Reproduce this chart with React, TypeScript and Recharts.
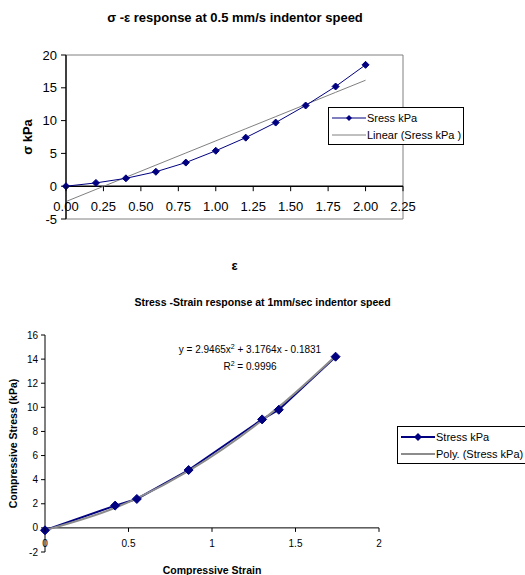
import { LineChart, Line, XAxis, YAxis, ReferenceLine, ReferenceArea, Legend, Label } from "recharts";

const FONT = "'Liberation Sans', Arial, sans-serif";

// chart 1: 0.5 mm/s
const strainA = [0, 0.2, 0.4, 0.6, 0.8, 1.0, 1.2, 1.4, 1.6, 1.8, 2.0];
const stressA = [0, 0.5, 1.2, 2.2, 3.6, 5.4, 7.4, 9.7, 12.3, 15.2, 18.5];
const xTicksA = [0, 0.25, 0.5, 0.75, 1, 1.25, 1.5, 1.75, 2, 2.25];
const yTicksA = [-5, 0, 5, 10, 15, 20];

// chart 2: 1 mm/sec
const strainB = [0, 0.42, 0.55, 0.86, 1.3, 1.4, 1.74];
const stressB = [-0.2, 1.85, 2.4, 4.8, 9.0, 9.8, 14.2];
const polyB = [2.9465, 3.1764, -0.1831]; // from the trendline label
const xTicksB = [0, 0.5, 1, 1.5, 2];
const yTicksB = [-2, 0, 2, 4, 6, 8, 10, 12, 14, 16];

// least squares line, same as Excel's linear trendline
function linFit(xs: number[], ys: number[]) {
  const n = xs.length;
  const mx = xs.reduce((a, b) => a + b, 0) / n;
  const my = ys.reduce((a, b) => a + b, 0) / n;
  let num = 0;
  let den = 0;
  xs.forEach((x, i) => {
    num += (x - mx) * (ys[i] - my);
    den += (x - mx) * (x - mx);
  });
  const slope = num / den;
  return (x: number) => my + slope * (x - mx);
}

const fitA = linFit(strainA, stressA);
const dataA = strainA.map((x, i) => ({ x, stress: stressA[i], trend: fitA(x) }));
const dataB = strainB.map((x, i) => ({
  x,
  stress: stressB[i],
  trend: polyB[0] * x * x + polyB[1] * x + polyB[2],
}));

// layout
const A = { h: 280, top: 55, bottom: 31, xh: 30, yw: 66, right: 122 };
const plotHA = A.h - A.top - A.bottom - A.xh;
const zeroA = (plotHA * 5) / 25;

const B = { h: 285, top: 45, bottom: 0, xh: 23, yw: 45, right: 146 };
const plotHB = B.h - B.top - B.bottom - B.xh;
const zeroB = (plotHB * 2) / 18;

const diamond = (r: number) => (props: any) => {
  const { cx, cy, index } = props;
  if (cx == null || cy == null) return <g key={`e-${index}`} />;
  return (
    <polygon
      key={`d-${index}`}
      points={`${cx},${cy - r} ${cx + r},${cy} ${cx},${cy + r} ${cx - r},${cy}`}
      fill="#000080"
      stroke="#000080"
    />
  );
};

const xTickA = (props: any) => {
  const { x, y, payload } = props;
  const y0 = y - zeroA;
  return (
    <g>
      <line x1={x} x2={x} y1={y0} y2={y0 + 5} stroke="#000" />
      <text x={x} y={y0 + 20} textAnchor="middle" dominantBaseline="central" fontSize={13} fontFamily={FONT} fill="#000">
        {payload.value.toFixed(2)}
      </text>
    </g>
  );
};

const xTickB = (props: any) => {
  const { x, y, payload } = props;
  const y0 = y - zeroB;
  return (
    <g>
      <line x1={x} x2={x} y1={y0} y2={y0 + 4} stroke="#000" />
      <text x={x} y={y0 + 16} textAnchor="middle" dominantBaseline="central" fontSize={10} fontFamily={FONT} fill="#000">
        {payload.value}
      </text>
    </g>
  );
};

const yTitle = (text: string, x: number, size: number) => (props: any) => {
  const vb = props.viewBox || {};
  const cy = (vb.y ?? 0) + (vb.height ?? 0) / 2;
  return (
    <text
      x={x}
      y={cy}
      transform={`rotate(-90 ${x} ${cy})`}
      textAnchor="middle"
      dominantBaseline="central"
      fontSize={size}
      fontWeight="bold"
      fontFamily={FONT}
      fill="#000"
    >
      {text}
    </text>
  );
};

const xTitle = (text: string, dy: number, size: number) => (props: any) => {
  const vb = props.viewBox || {};
  const cx = (vb.x ?? 0) + (vb.width ?? 0) / 2;
  return (
    <text x={cx} y={(vb.y ?? 0) + dy} textAnchor="middle" dominantBaseline="central" fontSize={size} fontWeight="bold" fontFamily={FONT} fill="#000">
      {text}
    </text>
  );
};

// data series first, trendline second
const legendBox = (thick: number, r: number) => (props: any) => {
  const items = [...(props.payload || [])].sort(
    (a: any, b: any) => (a.dataKey === "stress" ? 0 : 1) - (b.dataKey === "stress" ? 0 : 1)
  );
  return (
    <div style={{ border: "1px solid #000", background: "#fff", padding: "1px 3px", fontFamily: FONT, fontSize: 11 }}>
      {items.map((it: any) => {
        const marker = it.dataKey === "stress";
        return (
          <div key={it.value} style={{ display: "flex", alignItems: "center", height: 17, whiteSpace: "nowrap" }}>
            <svg width={34} height={12} style={{ marginRight: 1, flexShrink: 0 }}>
              <line x1={0} x2={34} y1={6} y2={6} stroke={it.color} strokeWidth={thick} />
              {marker ? <polygon points={`17,${6 - r} ${17 + r},6 17,${6 + r} ${17 - r},6`} fill="#000080" /> : null}
            </svg>
            <span>{it.value}</span>
          </div>
        );
      })}
    </div>
  );
};

export default function App() {
  return (
    <div style={{ position: "absolute", left: 0, top: 0, width: 525, height: 575, overflow: "hidden", background: "#fff", fontFamily: FONT }}>
      <div style={{ position: "absolute", left: 35, width: 400, top: 10, textAlign: "center", fontSize: 13, fontWeight: "bold", lineHeight: "16px" }}>
        σ -ε response at 0.5 mm/s indentor speed
      </div>
      <div style={{ position: "absolute", left: 0, top: 0 }}>
        <LineChart width={525} height={A.h} data={dataA} margin={{ top: A.top, right: A.right, bottom: A.bottom, left: 0 }}>
          <ReferenceArea x1={0} x2={2.25} y1={-5} y2={20} fill="none" stroke="#808080" />
          <XAxis
            type="number"
            dataKey="x"
            domain={[0, 2.25]}
            ticks={xTicksA}
            interval={0}
            height={A.xh}
            axisLine={false}
            tickLine={false}
            tickSize={0}
            tickMargin={0}
            tick={xTickA}
          >
            <Label content={xTitle("ε", 46, 13)} />
          </XAxis>
          <YAxis
            type="number"
            domain={[-5, 20]}
            ticks={yTicksA}
            interval={0}
            width={A.yw}
            axisLine={{ stroke: "#404040", strokeWidth: 2 }}
            tickLine={{ stroke: "#000" }}
            tickSize={5}
            tickMargin={4}
            tick={{ fontSize: 13, fill: "#000", fontFamily: FONT }}
          >
            <Label content={yTitle("σ kPa", 27, 13)} />
          </YAxis>
          <ReferenceLine y={0} stroke="#000" strokeWidth={1.5} />
          <Line
            type="linear"
            dataKey="trend"
            name="Linear (Sress kPa )"
            stroke="#808080"
            strokeWidth={1}
            dot={false}
            isAnimationActive={false}
          />
          <Line
            type="linear"
            dataKey="stress"
            name="Sress kPa"
            stroke="#000080"
            strokeWidth={1}
            dot={diamond(3.5)}
            isAnimationActive={false}
          />
          <Legend
            layout="vertical"
            align="center"
            verticalAlign="middle"
            wrapperStyle={{ left: 328, top: 107, width: 136 }}
            content={legendBox(1, 3)}
          />
        </LineChart>
      </div>

      <div style={{ position: "absolute", left: 0, width: 525, top: 294, textAlign: "center", fontSize: 10.5, fontWeight: "bold", lineHeight: "16px" }}>
        Stress -Strain response at 1mm/sec indentor speed
      </div>
      <div style={{ position: "absolute", left: 150, width: 200, top: 342, textAlign: "center", fontSize: 10, lineHeight: "16px" }}>
        <div>
          y = 2.9465x<span style={{ fontSize: 7, position: "relative", top: -4 }}>2</span> + 3.1764x - 0.1831
        </div>
        <div>
          R<span style={{ fontSize: 7, position: "relative", top: -4 }}>2</span> = 0.9996
        </div>
      </div>
      <div style={{ position: "absolute", left: 0, top: 290 }}>
        <LineChart width={525} height={B.h} data={dataB} margin={{ top: B.top, right: B.right, bottom: B.bottom, left: 0 }}>
          <XAxis
            type="number"
            dataKey="x"
            domain={[0, 2]}
            ticks={xTicksB}
            interval={0}
            height={B.xh}
            axisLine={false}
            tickLine={false}
            tickSize={0}
            tickMargin={0}
            tick={xTickB}
          >
            <Label content={xTitle("Compressive Strain", 18, 10.5)} />
          </XAxis>
          <YAxis
            type="number"
            domain={[-2, 16]}
            ticks={yTicksB}
            interval={0}
            width={B.yw}
            axisLine={{ stroke: "#000" }}
            tickLine={{ stroke: "#000" }}
            tickSize={4}
            tickMargin={3}
            tick={{ fontSize: 10, fill: "#000", fontFamily: FONT }}
          >
            <Label content={yTitle("Compressive Stress (kPa)", 13, 10.5)} />
          </YAxis>
          <ReferenceLine y={0} stroke="#000" />
          <Line
            type="linear"
            dataKey="stress"
            name="Stress kPa"
            stroke="#000080"
            strokeWidth={2}
            dot={diamond(4.5)}
            isAnimationActive={false}
          />
          <Line
            type="monotone"
            dataKey="trend"
            name="Poly. (Stress kPa)"
            stroke="#8c8c8c"
            strokeWidth={2}
            dot={false}
            isAnimationActive={false}
          />
          <Legend
            layout="vertical"
            align="center"
            verticalAlign="middle"
            wrapperStyle={{ left: 397, top: 136, width: 132 }}
            content={legendBox(2, 4)}
          />
        </LineChart>
      </div>
    </div>
  );
}
